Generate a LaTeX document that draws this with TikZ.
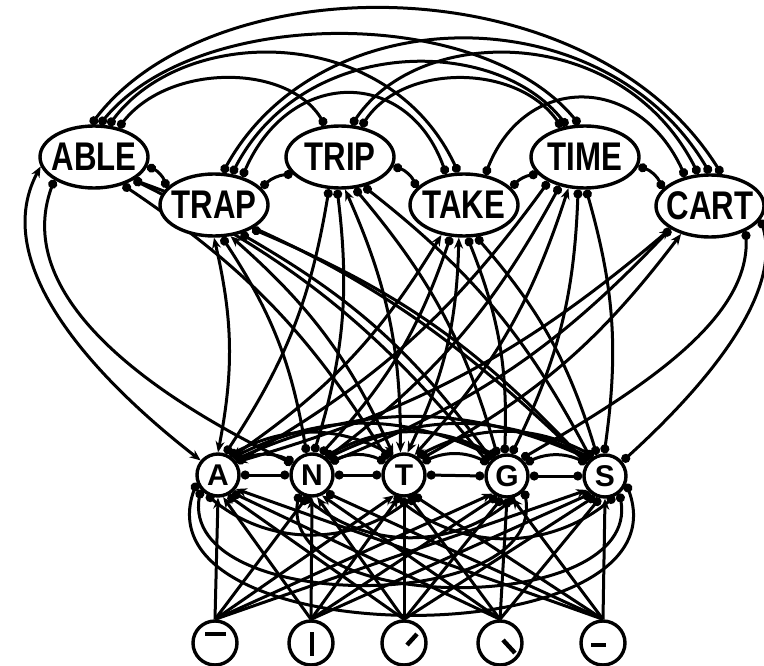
\documentclass[tikz,border=0pt]{standalone}
\usepackage{fontspec}
\setmainfont{Liberation Sans}
\usepackage{graphicx}
\usetikzlibrary{arrows.meta,shapes.geometric}
\pgfdeclarelayer{bg}
\pgfsetlayers{bg,main}
\newcommand\wtext[1]{\makebox[0pt]{\scalebox{0.78}[1]{\fontsize{40}{40}\selectfont\bfseries #1}}}
\tikzset{
  wordnode/.style={ellipse, draw, line width=3.4pt, minimum width=108pt, minimum height=62pt, inner sep=0pt, fill=white},
  letnode/.style={circle, draw, line width=3.4pt, minimum size=42pt, inner sep=0pt, fill=white, font=\fontsize{30}{30}\selectfont\bfseries},
  featnode/.style={circle, draw, line width=3.4pt, minimum size=44pt, inner sep=0pt, fill=white},
  glyph/.style={line width=4.4pt},
  lw/.style={line width=3pt},
  dot/.tip={Circle[length=9pt,width=9pt]},
  arr/.tip={Stealth[length=11pt,width=9pt]},
  excb/.style={lw, arr-arr},
  inhb/.style={lw, dot-dot},
  exce/.style={lw, -arr},
  inhe/.style={lw, -dot},
}
\begin{document}
\begin{tikzpicture}[x=1pt,y=1pt]
\useasboundingbox (0,0) rectangle (764,-666);
% word nodes
\node[wordnode] (ABLE) at (94,-157) {\wtext{ABLE}};
\node[wordnode] (TRAP) at (214,-205) {\wtext{TRAP}};
\node[wordnode] (TRIP) at (340,-157) {\wtext{TRIP}};
\node[wordnode] (TAKE) at (464,-205) {\wtext{TAKE}};
\node[wordnode] (TIME) at (585,-157) {\wtext{TIME}};
\node[wordnode] (CART) at (710,-206) {\wtext{CART}};
% letter nodes
\node[letnode] (A) at (218,-475) {A};
\node[letnode] (N) at (312,-475) {N};
\node[letnode] (T) at (404,-475) {T};
\node[letnode] (G) at (507,-476) {G};
\node[letnode] (S) at (605,-476) {S};
% feature nodes
\node[featnode] (f1) at (215,-643) {};
\node[featnode] (f2) at (311,-643) {};
\node[featnode] (f3) at (404,-643) {};
\node[featnode] (f4) at (500,-643) {};
\node[featnode] (f5) at (603,-643) {};
\draw[glyph] ([shift={(-10,9)}]f1.center) -- ([shift={(11,9)}]f1.center);
\draw[glyph] ([shift={(1,11)}]f2.center) -- ([shift={(1,-13)}]f2.center);
\draw[glyph] ([shift={(3,-2)}]f3.center) -- ([shift={(13,9)}]f3.center);
\draw[glyph] ([shift={(3,3)}]f4.center) -- ([shift={(15,-10)}]f4.center);
\draw[glyph] ([shift={(-12,-2)}]f5.center) -- ([shift={(3,-2)}]f5.center);

\begin{pgfonlayer}{bg}
% feature -> letter
\foreach \f/\i/\l/\j in {f1/1/A/1,f1/1/T/3,f1/1/G/4,f1/1/S/5,
  f2/2/A/1,f2/2/N/2,f2/2/T/3,f3/3/N/2,f4/4/N/2,f5/5/A/1,f5/5/G/4,f5/5/S/5}{
  \pgfmathtruncatemacro\ang{270-13*(\j-\i)}
  \draw[exce] (\f.north) -- (\l.\ang);
}
\foreach \f/\i/\l/\j in {f1/1/N/2,f2/2/G/4,f2/2/S/5,f3/3/A/1,f3/3/T/3,f3/3/G/4,f3/3/S/5,
  f4/4/A/1,f4/4/T/3,f4/4/G/4,f4/4/S/5,f5/5/N/2,f5/5/T/3}{
  \pgfmathtruncatemacro\ang{270-13*(\j-\i)}
  \draw[inhe] (\f.north) -- (\l.\ang);
}
% letter <-> letter
\foreach \a/\b in {A/N,N/T,T/G,G/S}{
  \draw[inhb] (\a.east) -- (\b.west);
  \draw[inhb] (\a.35) to[bend left=25] (\b.145);
}
\draw[inhb] (A.60) to[bend left=28] (T.120);
\draw[inhb] (A.50) to[bend left=26] (G.125);
\draw[inhb] (A.42) to[bend left=24] (S.132);
\draw[inhb] (N.55) to[bend left=28] (G.118);
\draw[inhb] (N.48) to[bend left=26] (S.128);
\draw[inhb] (T.55) to[bend left=28] (S.120);
\draw[inhb] (A.240) to[bend right=40] (T.300);
\draw[inhb] (A.220) to[out=260,in=280,looseness=1] (G.320);
\draw[inhb] (A.200) to[out=250,in=290,looseness=1.1] (S.340);
\draw[inhb] (N.250) to[bend right=40] (G.290);
\draw[inhb] (N.235) to[out=260,in=280] (S.310);
\draw[inhb] (T.245) to[bend right=40] (S.295);
% word <-> letter
\foreach \w/\wx/\l/\lx in {TRAP/214/A/218,TRAP/214/T/404,TRIP/340/T/404,TAKE/464/A/218,
  TAKE/464/T/404,TIME/585/T/404,CART/710/A/218,CART/710/T/404}{
  \pgfmathtruncatemacro\wa{max(210,min(330,270+0.15*(\lx-\wx)))}
  \pgfmathtruncatemacro\la{max(35,min(145,90+0.15*(\lx-\wx)))}
  \draw[excb] (\w.\wa) to[bend left=12] (\l.\la);
}
\foreach \w/\wx/\l/\lx in {ABLE/94/T/404,ABLE/94/G/507,ABLE/94/S/605,TRAP/214/N/312,
  TRAP/214/G/507,TRAP/214/S/605,TRIP/340/A/218,TRIP/340/N/312,TRIP/340/G/507,
  TRIP/340/S/605,TAKE/464/N/312,TAKE/464/G/507,TAKE/464/S/605,TIME/585/A/218,
  TIME/585/N/312,TIME/585/G/507,TIME/585/S/605,CART/710/N/312}{
  \pgfmathtruncatemacro\wa{max(210,min(330,270+0.15*(\lx-\wx)))}
  \pgfmathtruncatemacro\la{max(35,min(145,90+0.15*(\lx-\wx)))}
  \draw[inhb] (\w.\wa) to[bend left=12] (\l.\la);
}
\draw[excb] (ABLE.190) .. controls (-15,-270) and (110,-390) .. (A.140);
\draw[inhb] (ABLE.210) .. controls (10,-300) and (160,-400) .. (N.150);
\draw[inhb] (CART.-15) .. controls (785,-300) and (690,-400) .. (S.40);
\draw[inhb] (CART.-35) .. controls (750,-320) and (640,-390) .. (G.50);
% word <-> word
\draw[inhb] (ABLE.-10) to[bend left=25] (TRAP.160);
\draw[inhb] (TRAP.20) to[bend left=20] (TRIP.200);
\draw[inhb] (TRIP.-10) to[bend left=25] (TAKE.160);
\draw[inhb] (TAKE.20) to[bend left=20] (TIME.200);
\draw[inhb] (TIME.-10) to[bend left=25] (CART.160);
\draw[inhb] (ABLE.95) .. controls (214,37) and (590,37) .. (CART.70);
\draw[inhb] (ABLE.80) .. controls (198,-5) and (481,-5) .. (TIME.100);
\draw[inhb] (ABLE.65) .. controls (185,-23) and (389,-23) .. (TAKE.100);
\draw[inhb] (ABLE.50) .. controls (169,-63) and (288,-63) .. (TRIP.115);
\draw[inhb] (TRAP.75) .. controls (321,5) and (605,5) .. (CART.90);
\draw[inhb] (TRAP.60) .. controls (304,-35) and (496,-35) .. (TIME.120);
\draw[inhb] (TRAP.45) .. controls (290,-67) and (408,-67) .. (TAKE.120);
\draw[inhb] (TRIP.70) .. controls (420,-23) and (622,-23) .. (CART.110);
\draw[inhb] (TRIP.55) .. controls (403,-63) and (517,-63) .. (TIME.128);
\draw[inhb] (TAKE.55) .. controls (525,-73) and (638,-73) .. (CART.130);
\end{pgfonlayer}
\end{tikzpicture}
\end{document}
